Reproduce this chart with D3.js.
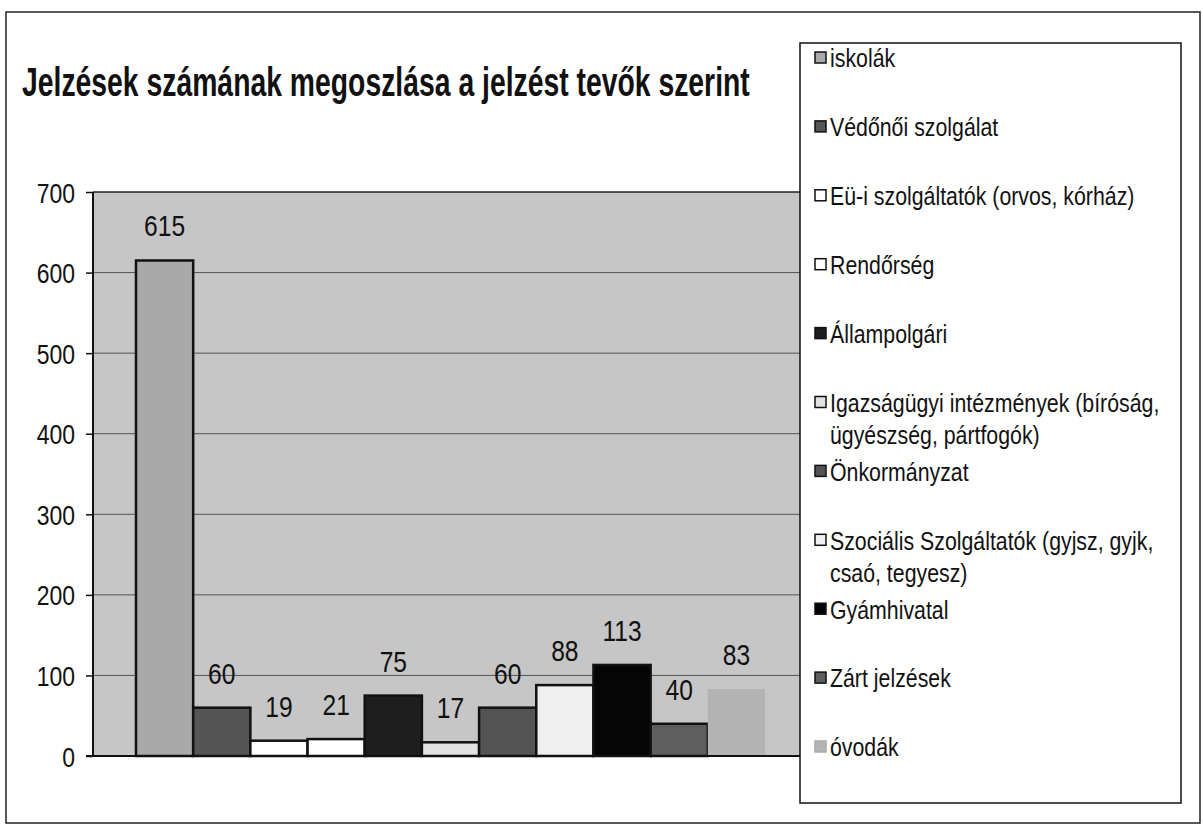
<!DOCTYPE html>
<html>
<head>
<meta charset="utf-8">
<script src="https://cdn.jsdelivr.net/npm/d3@7"></script>
<style>
  body { margin: 0; background: #fff; }
  text { font-family: "Liberation Sans", Arial, sans-serif; fill: #111; }
</style>
</head>
<body>
<svg id="chart" width="1203" height="830"></svg>
<script>
// adatok
const title = "Jelzések számának megoszlása a jelzést tevők szerint";
const seriesNames = [
  "iskolák",
  "Védőnői szolgálat",
  "Eü-i szolgáltatók (orvos, kórház)",
  "Rendőrség",
  "Állampolgári",
  "Igazságügyi intézmények (bíróság, ügyészség, pártfogók)",
  "Önkormányzat",
  "Szociális Szolgáltatók (gyjsz, gyjk, csaó, tegyesz)",
  "Gyámhivatal",
  "Zárt jelzések",
  "óvodák"
];
const seriesValues = [615, 60, 19, 21, 75, 17, 60, 88, 113, 40, 83];
const yTicks = [0, 100, 200, 300, 400, 500, 600, 700];

// stílus
const barFill = ["#a9a9a9", "#555555", "#ffffff", "#ffffff", "#1e1e1e", "#e2e2e2",
                 "#545454", "#efefef", "#050505", "#5e5e5e", "#b3b3b3"];
const barStroke = ["#111", "#111", "#111", "#111", "#111", "#111",
                   "#111", "#111", "#111", "#111", "none"];
const NARROW = 0.82;

const svg = d3.select("#chart");

// külső keret
svg.append("rect")
  .attr("x", 6).attr("y", 12)
  .attr("width", 1194).attr("height", 811)
  .attr("fill", "#fff")
  .attr("stroke", "#222").attr("stroke-width", 1.5);

// cím - szélességre skálázva, hogy a befoglaló doboz is helyes legyen
const titleText = svg.append("text")
  .attr("font-size", 40)
  .attr("font-weight", "bold")
  .text(title);
const titleScale = 728 / titleText.node().getComputedTextLength();
titleText.attr("transform", `translate(22,96) scale(${titleScale},1)`);

const plot = { left: 93, right: 800, top: 192, bottom: 756 };

const y = d3.scaleLinear().domain([0, 700]).range([plot.bottom, plot.top]);
const x = d3.scaleBand().domain(seriesNames).range([136, 765]).padding(0);

// rajzterület háttér
svg.append("rect")
  .attr("x", plot.left).attr("y", plot.top)
  .attr("width", plot.right - plot.left).attr("height", plot.bottom - plot.top)
  .attr("fill", "#c6c6c6");

// rácsvonalak
svg.append("g")
  .selectAll("line")
  .data(yTicks.filter(d => d > 0))
  .join("line")
  .attr("x1", plot.left).attr("x2", plot.right)
  .attr("y1", d => y(d)).attr("y2", d => y(d))
  .attr("stroke", d => d === 700 ? "#222" : "#555")
  .attr("stroke-width", d => d === 700 ? 1.5 : 1);

// oszlopok
svg.append("g")
  .selectAll("rect")
  .data(seriesValues)
  .join("rect")
  .attr("x", (d, i) => x(seriesNames[i]))
  .attr("y", d => y(d))
  .attr("width", x.bandwidth())
  .attr("height", d => y(0) - y(d))
  .attr("fill", (d, i) => barFill[i])
  .attr("stroke", (d, i) => barStroke[i])
  .attr("stroke-width", 2.5);

// értékcímkék
svg.append("g")
  .selectAll("text")
  .data(seriesValues)
  .join("text")
  .attr("transform", (d, i) =>
    `translate(${x(seriesNames[i]) + x.bandwidth() / 2},${y(d) - 24}) scale(${NARROW},1)`)
  .attr("text-anchor", "middle")
  .attr("font-size", 30)
  .text(d => d);

// y tengely
const yAxis = svg.append("g")
  .attr("transform", `translate(${plot.left},0)`)
  .call(d3.axisLeft(y).tickValues(yTicks).tickSize(7).tickPadding(0));

yAxis.select(".domain")
  .attr("stroke", "#111").attr("stroke-width", 2)
  .attr("d", `M0,${plot.top}V${plot.bottom}`);
yAxis.selectAll(".tick line").attr("stroke", "#111").attr("stroke-width", 1.5);
yAxis.selectAll(".tick text")
  .attr("font-size", 28)
  .attr("font-family", null)
  .attr("fill", "#111")
  .attr("x", -18 / NARROW)
  .attr("dy", "0.36em")
  .attr("transform", `scale(${NARROW},1)`);

// x tengely vonal
svg.append("line")
  .attr("x1", plot.left - 7).attr("x2", plot.right)
  .attr("y1", y(0)).attr("y2", y(0))
  .attr("stroke", "#111").attr("stroke-width", 2);

// jelmagyarázat
const legend = { x: 800, y: 43, w: 381, h: 760 };
svg.append("rect")
  .attr("x", legend.x).attr("y", legend.y)
  .attr("width", legend.w).attr("height", legend.h)
  .attr("fill", "#fff")
  .attr("stroke", "#111").attr("stroke-width", 1.5);

const ly = d3.scalePoint().domain(seriesNames).range([58, 747]);
const textX = 830, maxW = 345, lineH = 32;

const items = svg.append("g")
  .selectAll("g")
  .data(seriesNames)
  .join("g");

items.append("rect")
  .attr("x", 815).attr("y", d => ly(d) - 6)
  .attr("width", 11).attr("height", 11)
  .attr("fill", (d, i) => barFill[i])
  .attr("stroke", (d, i) => i === 10 ? "#aaa" : "#111")
  .attr("stroke-width", 1.5);

// sortörés szélesség alapján, soronként külön text elem
items.each(function(name) {
  const g = d3.select(this);
  const words = name.split(" ");
  const lines = [];
  let line = [];
  const probe = g.append("text").attr("font-size", 26);
  for (const w of words) {
    const test = line.concat(w).join(" ");
    probe.text(test);
    if (probe.node().getComputedTextLength() * NARROW > maxW && line.length) {
      lines.push(line.join(" "));
      line = [w];
    } else {
      line.push(w);
    }
  }
  lines.push(line.join(" "));
  probe.remove();

  g.selectAll("text.lbl")
    .data(lines)
    .join("text")
    .attr("class", "lbl")
    .attr("font-size", 26)
    .attr("dy", "0.36em")
    .attr("transform", (l, k) => `translate(${textX},${ly(name) + k * lineH}) scale(${NARROW},1)`)
    .text(l => l);
});
</script>
</body>
</html>
